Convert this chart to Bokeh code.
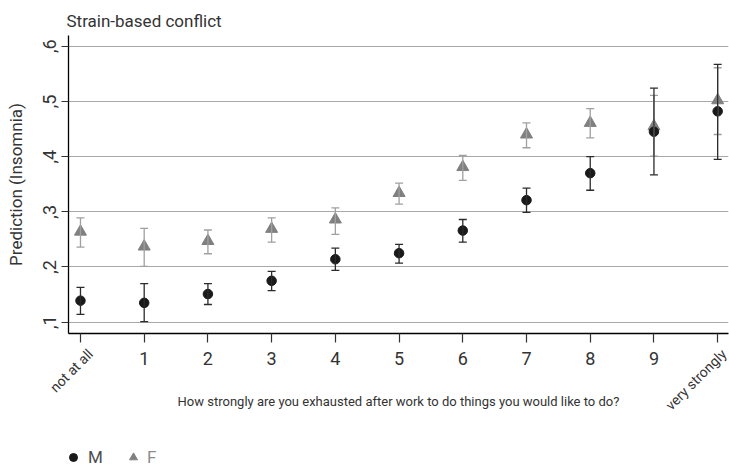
import math
from bokeh.plotting import figure
from bokeh.layouts import column
from bokeh.models import (ColumnDataSource, FixedTicker, Legend, LegendItem, LinearAxis,
                          Range1d, Whisker, TeeHead)
from bokeh.embed import file_html
from bokeh.resources import INLINE

# ---- data ----
x_vals = [0, 1, 2, 3, 4, 5, 6, 7, 8, 9, 10]
x_tick_labels = ["not at all", "1", "2", "3", "4", "5", "6", "7", "8", "9", "very strongly"]
y_ticks = [0.1, 0.2, 0.3, 0.4, 0.5, 0.6]
y_tick_labels = [",1", ",2", ",3", ",4", ",5", ",6"]

m_pred = [0.139, 0.135, 0.151, 0.175, 0.214, 0.225, 0.266, 0.321, 0.370, 0.445, 0.482]
m_lo = [0.114, 0.101, 0.132, 0.157, 0.194, 0.207, 0.245, 0.299, 0.339, 0.367, 0.395]
m_hi = [0.163, 0.170, 0.170, 0.192, 0.234, 0.241, 0.286, 0.343, 0.400, 0.524, 0.567]

f_pred = [0.264, 0.237, 0.247, 0.269, 0.286, 0.334, 0.381, 0.440, 0.461, 0.455, 0.502]
f_lo = [0.236, 0.201, 0.224, 0.245, 0.259, 0.314, 0.357, 0.416, 0.434, 0.401, 0.440]
f_hi = [0.289, 0.270, 0.267, 0.289, 0.307, 0.352, 0.402, 0.461, 0.487, 0.511, 0.561]

series_names = ["M", "F"]

FONT = "Roboto"
TXT = "#333333"
M_COL = "#1a1a1a"
M_ERR = "#2b2b2b"
F_COL = "#808080"
F_ERR = "#a0a0a0"

X0, X1 = -0.188, 10.17
Y0, Y1 = 0.0795, 0.6194
p = figure(width=729, height=440, x_range=(X0, X1), y_range=(Y0, Y1),
           output_backend="svg", toolbar_location=None,
           min_border_left=68, min_border_right=1, min_border_top=35, min_border_bottom=107)
p.outline_line_color = None

p.title.text = "Strain-based conflict"
p.title.text_font = FONT
p.title.text_font_size = "17px"
p.title.text_font_style = "normal"
p.title.text_color = TXT
p.title.align = "left"
p.title.offset = -2
p.title.standoff = 10

# grid
p.xgrid.visible = False
p.ygrid.ticker = FixedTicker(ticks=y_ticks)
p.ygrid.grid_line_color = "#a8a8a8"
p.ygrid.grid_line_width = 1.2

# main x axis: ticks and numeric labels
xa = p.xaxis[0]
xa.ticker = FixedTicker(ticks=x_vals)
xa.major_label_overrides = {x_vals[i]: ("" if i in (0, len(x_vals) - 1) else x_tick_labels[i])
                            for i in range(len(x_vals))}
xa.axis_line_color = "#000000"
xa.axis_line_width = 1.3
xa.major_tick_out = 9
xa.major_tick_in = 0
xa.major_tick_line_color = "#333333"
xa.major_tick_line_width = 1.2
xa.minor_tick_line_color = None
xa.major_label_standoff = 9
xa.major_label_text_font = FONT
xa.major_label_text_font_size = "18px"
xa.major_label_text_color = TXT
xa.axis_label = "How strongly are you exhausted after work to do things you would like to do?"
xa.axis_label_text_font = FONT
xa.axis_label_text_font_size = "13px"
xa.axis_label_text_font_style = "normal"
xa.axis_label_text_color = TXT
xa.axis_label_standoff = 26

# second x axis: rotated end labels
d = 10 * (X1 - X0) / 660.0
p.extra_x_ranges = {"ends": Range1d(X0 - d, X1 - d)}
xb = LinearAxis(x_range_name="ends", ticker=FixedTicker(ticks=[x_vals[0], x_vals[-1]]),
                major_label_overrides={x_vals[0]: x_tick_labels[0], x_vals[-1]: x_tick_labels[-1]},
                major_label_orientation=math.pi / 4, axis_line_color=None,
                major_tick_line_color=None, minor_tick_line_color=None,
                major_tick_out=0, major_tick_in=0, major_label_standoff=-60,
                major_label_text_font=FONT, major_label_text_font_size="14px",
                major_label_text_color=TXT)
p.add_layout(xb, "below")

# y axis
ya = p.yaxis[0]
ya.ticker = FixedTicker(ticks=y_ticks)
ya.major_label_overrides = {y_ticks[i]: y_tick_labels[i] for i in range(len(y_ticks))}
ya.axis_line_color = "#000000"
ya.axis_line_width = 1.3
ya.major_tick_out = 7
ya.major_tick_in = 0
ya.major_tick_line_color = "#333333"
ya.major_tick_line_width = 1.2
ya.minor_tick_line_color = None
ya.major_label_orientation = "vertical"
ya.major_label_standoff = 5
ya.major_label_text_font = FONT
ya.major_label_text_font_size = "18px"
ya.major_label_text_color = TXT
ya.axis_label = "Prediction (Insomnia)"
ya.axis_label_text_font = FONT
ya.axis_label_text_font_size = "17px"
ya.axis_label_text_font_style = "normal"
ya.axis_label_text_color = TXT
ya.axis_label_standoff = 15

# data
fsrc = ColumnDataSource(dict(x=x_vals, y=f_pred, lo=f_lo, hi=f_hi))
msrc = ColumnDataSource(dict(x=x_vals, y=m_pred, lo=m_lo, hi=m_hi))

fw = Whisker(source=fsrc, base="x", upper="hi", lower="lo", line_color=F_ERR, line_width=1.3,
             upper_head=TeeHead(size=8, line_color=F_ERR, line_width=1.3),
             lower_head=TeeHead(size=8, line_color=F_ERR, line_width=1.3), level="glyph")
p.add_layout(fw)
p.scatter("x", "y", source=fsrc, marker="triangle", size=12, fill_color=F_COL, line_color=F_COL)
mw = Whisker(source=msrc, base="x", upper="hi", lower="lo", line_color=M_ERR, line_width=1.3,
             upper_head=TeeHead(size=8, line_color=M_ERR, line_width=1.3),
             lower_head=TeeHead(size=8, line_color=M_ERR, line_width=1.3), level="glyph")
p.add_layout(mw)
p.scatter("x", "y", source=msrc, marker="circle", size=9.5, fill_color=M_COL, line_color=M_COL)

# legend strip (separate small figure below, so the legend is not clipped);
# its renderers hold the same series but lie outside this strip's ranges (not visible)
p2 = figure(width=729, height=27, x_range=(X0, X1), y_range=(1, 2), output_backend="svg",
            toolbar_location=None, x_axis_location=None, y_axis_location=None,
            min_border=0)
p2.grid.visible = False
p2.outline_line_color = None
lm = p2.scatter(x=x_vals, y=m_pred, marker="circle", fill_color=M_COL, line_color=M_COL)
lf = p2.scatter(x=x_vals, y=f_pred, marker="triangle", fill_color=F_COL, line_color=F_COL)

common = dict(orientation="horizontal", padding=0, margin=0,
              glyph_width=20, glyph_height=20, label_height=20,
              border_line_alpha=0, background_fill_alpha=0,
              label_text_font=FONT, label_text_font_size="17px")
leg_m = Legend(items=[LegendItem(label=series_names[0], renderers=[lm])], location=(-5, 0),
               label_standoff=5, label_text_color="#4d4d4d", **common)
leg_f = Legend(items=[LegendItem(label=series_names[1], renderers=[lf])], location=(55, 0),
               label_standoff=4, label_text_color="#8c8c8c", **common)
p2.add_layout(leg_m)
p2.add_layout(leg_f)

open("out.html", "w").write(file_html(column(p, p2, spacing=0), INLINE))
